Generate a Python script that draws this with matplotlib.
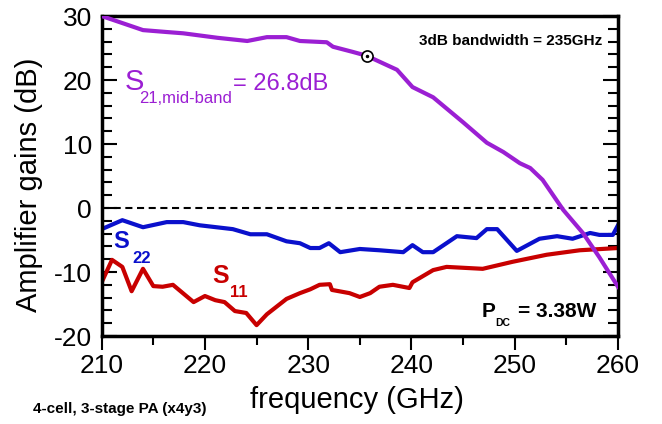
import matplotlib
matplotlib.use('Agg')
import matplotlib.pyplot as plt
from matplotlib.ticker import MultipleLocator

# S21 (purple)
s21_freq = [210.0, 214.0, 216.3, 217.9, 221.2, 224.1, 226.0, 227.9, 229.2, 231.8,
            232.4, 234.3, 235.65, 238.6, 240.1, 242.1, 245.0, 247.3, 248.9, 250.5,
            251.5, 252.7, 254.7, 256.6, 258.2, 260.0]
s21_db = [30.0, 27.8, 27.5, 27.3, 26.6, 26.1, 26.7, 26.7, 26.1, 25.9,
          25.2, 24.4, 23.8, 21.6, 18.9, 17.3, 13.4, 10.2, 8.75, 7.0,
          6.25, 4.4, -0.3, -3.9, -7.7, -12.3]

# S22 (blue)
s22_freq = [210.0, 212.0, 214.0, 216.3, 217.9, 219.5, 222.7, 224.4, 226.0, 227.9,
            229.2, 230.2, 231.1, 232.0, 233.1, 235.0, 236.9, 239.2, 240.1, 241.1,
            242.1, 244.4, 246.3, 247.3, 248.3, 250.2, 252.4, 254.1, 255.6, 257.3,
            258.2, 259.5, 260.0]
s22_db = [-3.3, -1.9, -3.0, -2.2, -2.2, -2.7, -3.3, -4.1, -4.1, -5.2,
          -5.5, -6.25, -6.25, -5.5, -6.9, -6.4, -6.6, -6.9, -5.8, -6.9,
          -6.9, -4.4, -4.7, -3.3, -3.3, -6.7, -4.8, -4.4, -4.8, -3.9,
          -4.2, -4.2, -2.7]

# S11 (red)
s11_freq = [210.0, 211.0, 212.0, 212.9, 214.0, 215.0, 215.9, 216.9, 218.9, 220.0,
            221.0, 221.9, 222.9, 224.0, 225.0, 226.0, 227.9, 229.2, 230.2, 231.1,
            232.1, 232.3, 234.0, 235.0, 236.0, 236.9, 238.2, 239.8, 240.1, 242.1,
            243.4, 246.9, 249.8, 253.1, 256.3, 260.0]
s11_db = [-11.6, -8.1, -9.2, -13.0, -9.5, -12.2, -12.3, -12.0, -14.7, -13.75,
          -14.4, -14.7, -16.1, -16.4, -18.3, -16.6, -14.2, -13.3, -12.7, -12.0,
          -11.9, -12.8, -13.3, -13.9, -13.3, -12.3, -12.0, -12.5, -11.6, -9.7,
          -9.2, -9.5, -8.4, -7.3, -6.6, -6.25]

# 3dB point
bw_freq = [235.65]
bw_db = [23.8]

purple = '#9B1FD3'
blue = '#0A10CC'
red = '#C80000'

plt.rcParams['font.family'] = ['Liberation Sans', 'DejaVu Sans']
plt.rcParams['axes.unicode_minus'] = False

fig = plt.figure(figsize=(6.62, 4.24), dpi=100)
ax = fig.add_axes([0.1536, 0.2075, 0.7799, 0.7547])

ax.axhline(0, color='black', lw=1.5, ls=(0, (3.4, 2.2)), zorder=1)
ax.plot(s21_freq, s21_db, color=purple, lw=3, zorder=3)
ax.plot(s22_freq, s22_db, color=blue, lw=3, zorder=2)
ax.plot(s11_freq, s11_db, color=red, lw=3, zorder=2)
ax.plot(bw_freq, bw_db, 'o', ms=8, mfc='white', mec='black', mew=1.2, zorder=4)
ax.plot(bw_freq, bw_db, 'o', ms=1.5, color='black', zorder=5)

ax.set_xlim(210, 260)
ax.set_ylim(-20, 30)
ax.xaxis.set_major_locator(MultipleLocator(10))
ax.xaxis.set_minor_locator(MultipleLocator(5))
ax.yaxis.set_major_locator(MultipleLocator(10))
ax.yaxis.set_minor_locator(MultipleLocator(2))

for sp in ax.spines.values():
    sp.set_linewidth(2.5)
ax.tick_params(axis='y', which='both', direction='in', left=True, right=True,
               width=1.5, labelsize=19, pad=7)
ax.tick_params(axis='y', which='major', length=11)
ax.tick_params(axis='y', which='minor', length=7)
ax.tick_params(axis='x', which='both', direction='out', top=False, bottom=True,
               width=1.5, labelsize=19, pad=3)
ax.tick_params(axis='x', which='major', length=10)
ax.tick_params(axis='x', which='minor', length=6.5)

ax.set_xlabel('frequency (GHz)', fontsize=21)
ax.set_ylabel('Amplifier gains (dB)', fontsize=21)
ax.xaxis.set_label_coords(0.494, -0.155)
ax.yaxis.set_label_coords(-0.114, 0.473)

tr = ax.transAxes
# S21 mid-band label
ax.text(0.0451, 0.769, 'S', fontsize=21, color=purple, transform=tr, va='baseline')
ax.text(0.0722, 0.728, '21,mid-band', fontsize=12, color=purple, transform=tr, va='baseline')
ax.text(0.2543, 0.769, '= 26.8dB', fontsize=17, color=purple, transform=tr, va='baseline')
# S22
ax.text(0.0219, 0.275, 'S', fontsize=17, fontweight='bold', color=blue, transform=tr, va='baseline')
ax.text(0.0587, 0.228, '22', fontsize=12, fontweight='bold', color=blue, transform=tr, va='baseline')
# S11
ax.text(0.2136, 0.166, 'S', fontsize=18, fontweight='bold', color=red, transform=tr, va='baseline')
ax.text(0.2485, 0.122, '11', fontsize=12, fontweight='bold', color=red, transform=tr, va='baseline')
# PDC
ax.text(0.7366, 0.059, 'P', fontsize=15, fontweight='bold', transform=tr, va='baseline')
ax.text(0.7618, 0.031, 'DC', fontsize=7.5, fontweight='bold', transform=tr, va='baseline')
ax.text(0.8063, 0.059, '= 3.38W', fontsize=15, fontweight='bold', transform=tr, va='baseline')
# bandwidth
ax.text(0.969, 0.909, '3dB bandwidth = 235GHz', fontsize=11, fontweight='bold',
        transform=tr, ha='right', va='baseline')

fig.text(33 / 662, 1 - 413 / 424, '4-cell, 3-stage PA (x4y3)', fontsize=11,
         fontweight='bold', va='baseline')

fig.savefig('out.png', dpi=100)
